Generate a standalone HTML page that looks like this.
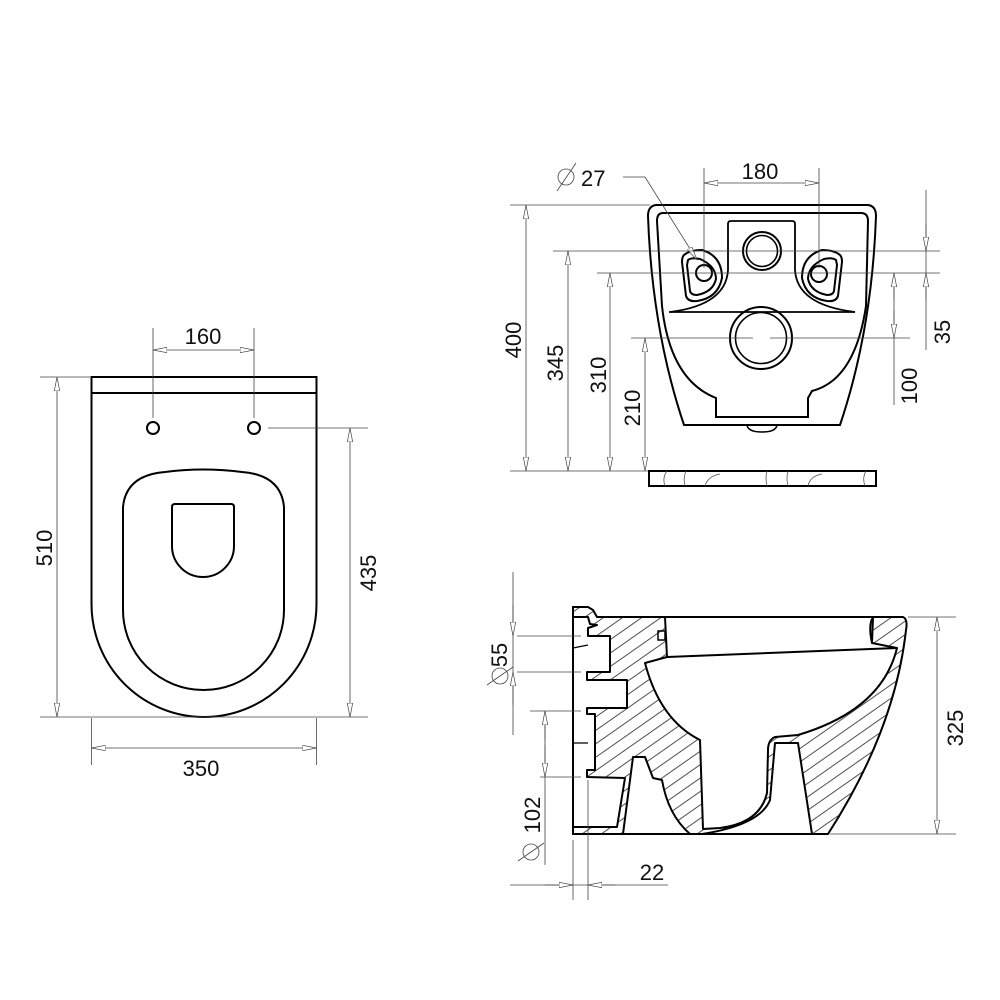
<!DOCTYPE html>
<html><head><meta charset="utf-8"><style>
html,body{margin:0;padding:0;background:#fff;}
svg{display:block;}
text{font-family:"Liberation Sans",sans-serif;font-size:22px;fill:#111;}
</style></head><body>
<svg width="1000" height="1000" viewBox="0 0 1000 1000" xmlns="http://www.w3.org/2000/svg">
<defs>
<marker id="a" viewBox="0 0 14 6" refX="14" refY="3" markerWidth="14" markerHeight="6" markerUnits="userSpaceOnUse" orient="auto-start-reverse">
<path d="M0,0.3 L14,3 L0,5.7 Z" fill="#fff" stroke="#444" stroke-width="0.7"/>
</marker>
<pattern id="h" width="11" height="11" patternUnits="userSpaceOnUse" patternTransform="rotate(-35)">
<line x1="0" y1="5" x2="11" y2="5" stroke="#222" stroke-width="0.8"/>
</pattern>
</defs>

<g fill="none" stroke="#000" stroke-width="2">
<rect x="91.5" y="377" width="225" height="16"/>
<path d="M91.5,393 L91.5,604 A112.5,113 0 0 0 316.5,604 L316.5,393"/>
<path d="M123,507 Q126,475 165,472 Q203,467 242,472 Q281,475 284,507 L284,610 A80.5,80 0 0 1 123,610 Z"/>
<path d="M175,504 L231,504 Q234,504 234,507 L234,546 A31,31 0 0 1 172,546 L172,507 Q172,504 175,504 Z"/>
<circle cx="153" cy="428" r="6"/>
<circle cx="254" cy="428" r="6"/>
</g>
<g stroke="#444" stroke-width="0.8" fill="none">
<line x1="153" y1="328" x2="153" y2="418"/>
<line x1="254" y1="328" x2="254" y2="418"/>
<line x1="153" y1="350" x2="254" y2="350" marker-start="url(#a)" marker-end="url(#a)"/>
<line x1="40" y1="377" x2="90" y2="377"/>
<line x1="40" y1="717" x2="368" y2="717"/>
<line x1="57" y1="377" x2="57" y2="717" marker-start="url(#a)" marker-end="url(#a)"/>
<line x1="268" y1="428" x2="368" y2="428"/>
<line x1="350" y1="428" x2="350" y2="717" marker-start="url(#a)" marker-end="url(#a)"/>
<line x1="91.5" y1="718" x2="91.5" y2="765"/>
<line x1="316.5" y1="718" x2="316.5" y2="765"/>
<line x1="91.5" y1="748" x2="316.5" y2="748" marker-start="url(#a)" marker-end="url(#a)"/>
</g>
<text x="203" y="344" text-anchor="middle">160</text>
<text x="201" y="776" text-anchor="middle">350</text>
<text transform="translate(52,548) rotate(-90)" text-anchor="middle">510</text>
<text transform="translate(376,573) rotate(-90)" text-anchor="middle">435</text>

<g fill="none" stroke="#000" stroke-width="2">
<path d="M656,205 L868,205 Q876,206 876,216 Q872,330 840,425 L684,425 Q652,330 648,216 Q648,206 656,205 Z"/>
<path d="M663,213 L861,213 Q868,213 868,221 L866,306 Q855,380 812,391 L808,398 L808,417 L716,417 L716,398 Q670,380 662,306 L657,221 Q657,213 663,213 Z"/>
<path d="M669,312 L855,312" stroke-width="1.8"/>
<path d="M670,312 Q726,305 728,270 L728,224 Q728,221 731,221 L792,221 Q795,221 795,224 L795,270 Q797,305 855,312" stroke-width="1.8"/>
<path d="M684,255 Q690,250 702,250 Q722,256 722,278 Q718,298 697,301 Q688,302 686,296 L682,262 Q682,257 684,255 Z"/>
<path d="M688,260 Q692,257 700,259 Q716,266 716,279 Q713,292 697,295 Q691,295 690,291 L687,265 Z"/>
<circle cx="704" cy="273" r="8"/>
<path d="M840,255 Q834,250 822,250 Q802,256 802,278 Q806,298 827,301 Q836,302 838,296 L842,262 Q842,257 840,255 Z"/>
<path d="M836,260 Q832,257 824,259 Q808,266 808,279 Q811,292 827,295 Q833,295 834,291 L837,265 Z"/>
<circle cx="819" cy="274" r="8"/>
<circle cx="762" cy="251" r="19"/>
<circle cx="762" cy="251" r="15.5" stroke-width="1.6"/>
<circle cx="761" cy="338" r="31"/>
<circle cx="761" cy="338" r="25.5" stroke-width="1.6"/>
<path d="M747,425 Q748,432 762,432 Q776,432 777,425" stroke-width="1.5"/>
<rect x="649" y="471" width="227" height="15"/>
</g>
<g fill="none" stroke="#555" stroke-width="0.8">
<path d="M665,486 Q662,478 667,471 M685,486 Q683,478 686,471 M705,486 Q708,476 720,474 M767,486 Q765,478 767,471 M788,486 Q786,478 788,471 M808,486 Q810,476 822,474 M865,486 Q862,478 866,471"/>
</g>
<g stroke="#444" stroke-width="0.8" fill="none">
<line x1="704" y1="168" x2="704" y2="268"/>
<line x1="819" y1="168" x2="819" y2="268"/>
<line x1="704" y1="183" x2="819" y2="183" marker-start="url(#a)" marker-end="url(#a)"/>
<polyline points="623,177 645,177 697,260" marker-end="url(#a)"/>
<line x1="510" y1="205" x2="650" y2="205"/>
<line x1="510" y1="471" x2="648" y2="471"/>
<line x1="553" y1="251" x2="940" y2="251"/>
<line x1="597" y1="273" x2="940" y2="273"/>
<line x1="631" y1="338" x2="753" y2="338"/>
<line x1="770" y1="338" x2="910" y2="338"/>
<line x1="526" y1="205" x2="526" y2="471" marker-start="url(#a)" marker-end="url(#a)"/>
<line x1="568" y1="251" x2="568" y2="471" marker-start="url(#a)" marker-end="url(#a)"/>
<line x1="610" y1="273" x2="610" y2="471" marker-start="url(#a)" marker-end="url(#a)"/>
<line x1="645" y1="338" x2="645" y2="471" marker-start="url(#a)" marker-end="url(#a)"/>
<line x1="926" y1="190" x2="926" y2="350"/>
<line x1="926" y1="225" x2="926" y2="251" marker-end="url(#a)"/>
<line x1="926" y1="300" x2="926" y2="273" marker-end="url(#a)"/>
<line x1="894" y1="273" x2="894" y2="405"/>
<line x1="894" y1="300" x2="894" y2="273" marker-end="url(#a)"/>
<line x1="894" y1="310" x2="894" y2="338" marker-end="url(#a)"/>
<circle cx="566" cy="177" r="8"/>
<line x1="557" y1="191" x2="576" y2="163"/>
</g>
<text x="760" y="179" text-anchor="middle">180</text>
<text x="581" y="186">27</text>
<text transform="translate(521,340) rotate(-90)" text-anchor="middle">400</text>
<text transform="translate(563,363) rotate(-90)" text-anchor="middle">345</text>
<text transform="translate(606,375) rotate(-90)" text-anchor="middle">310</text>
<text transform="translate(640,408) rotate(-90)" text-anchor="middle">210</text>
<text transform="translate(950,332) rotate(-90)" text-anchor="middle">35</text>
<text transform="translate(917,386) rotate(-90)" text-anchor="middle">100</text>

<path d="M573,607 L588,607 L593,610 L597,617 L903,617 Q908,619 906,630 Q895,730 828,834 L573,834 Z" fill="url(#h)" stroke="none"/>
<g fill="#fff" stroke="#000" stroke-width="2" stroke-linejoin="round">
<path d="M665,617 L873,617 L872,643 L897,648 Q882,710 798,735 L775,737 Q768,740 768,750 L767,793 Q760,823 720,828 L703,829 L700,740 Q660,720 645,663 L667,657 Z"/>
<path d="M623,834 L633,757 L645,757 L653,778 L662,780 Q668,815 690,834 Z"/>
<path d="M775,743 L798,743 L812,834 L702,834 Q760,825 770,800 Z"/>
<path d="M573,617 L588,617 L590,624 L597,625 L588,628 L588,636 L610,636 L610,672 L587,672 L587,680 L627,680 L627,708 L587,708 L587,714 L595,714 L595,770 L587,770 L587,777 L625,778 L617,827 L573,827 Z"/>
</g>
<g fill="none" stroke="#000" stroke-width="2">
<path d="M573,607 L588,607 L593,610 L597,617 L903,617 Q908,619 906,630 Q895,730 828,834 L573,834 Z"/>
<line x1="667" y1="657" x2="897" y2="648"/>
<path d="M873,617 Q868,625 872,643"/>
<rect x="658" y="631" width="7" height="9" stroke-width="1.5"/>
<path d="M573,648 L588,645 M573,743 L588,743" stroke-width="1.2"/>
</g>
<g stroke="#444" stroke-width="0.8" fill="none">
<line x1="937" y1="617" x2="937" y2="834" marker-start="url(#a)" marker-end="url(#a)"/>
<line x1="908" y1="617" x2="956" y2="617"/>
<line x1="830" y1="834" x2="956" y2="834"/>
<line x1="513" y1="572" x2="513" y2="735"/>
<line x1="513" y1="605" x2="513" y2="636" marker-end="url(#a)"/>
<line x1="513" y1="705" x2="513" y2="672" marker-end="url(#a)"/>
<line x1="517" y1="636" x2="581" y2="636"/>
<line x1="517" y1="672" x2="581" y2="672"/>
<line x1="530" y1="711" x2="581" y2="711"/>
<line x1="540" y1="777" x2="581" y2="777"/>
<line x1="545" y1="711" x2="545" y2="865"/>
<line x1="545" y1="740" x2="545" y2="711" marker-end="url(#a)"/>
<line x1="545" y1="745" x2="545" y2="777" marker-end="url(#a)"/>
<line x1="573" y1="840" x2="573" y2="900"/>
<line x1="588" y1="780" x2="588" y2="900"/>
<line x1="510" y1="885" x2="668" y2="885"/>
<line x1="545" y1="885" x2="573" y2="885" marker-end="url(#a)"/>
<line x1="615" y1="885" x2="588" y2="885" marker-end="url(#a)"/>
<circle cx="500" cy="676" r="8"/>
<line x1="487" y1="685" x2="513" y2="667"/>
<circle cx="531" cy="852" r="8"/>
<line x1="518" y1="861" x2="544" y2="843"/>
</g>
<text transform="translate(507,655) rotate(-90)" text-anchor="middle">55</text>
<text transform="translate(540,815) rotate(-90)" text-anchor="middle">102</text>
<text x="652" y="880" text-anchor="middle">22</text>
<text transform="translate(963,728) rotate(-90)" text-anchor="middle">325</text>
</svg>
</body></html>
